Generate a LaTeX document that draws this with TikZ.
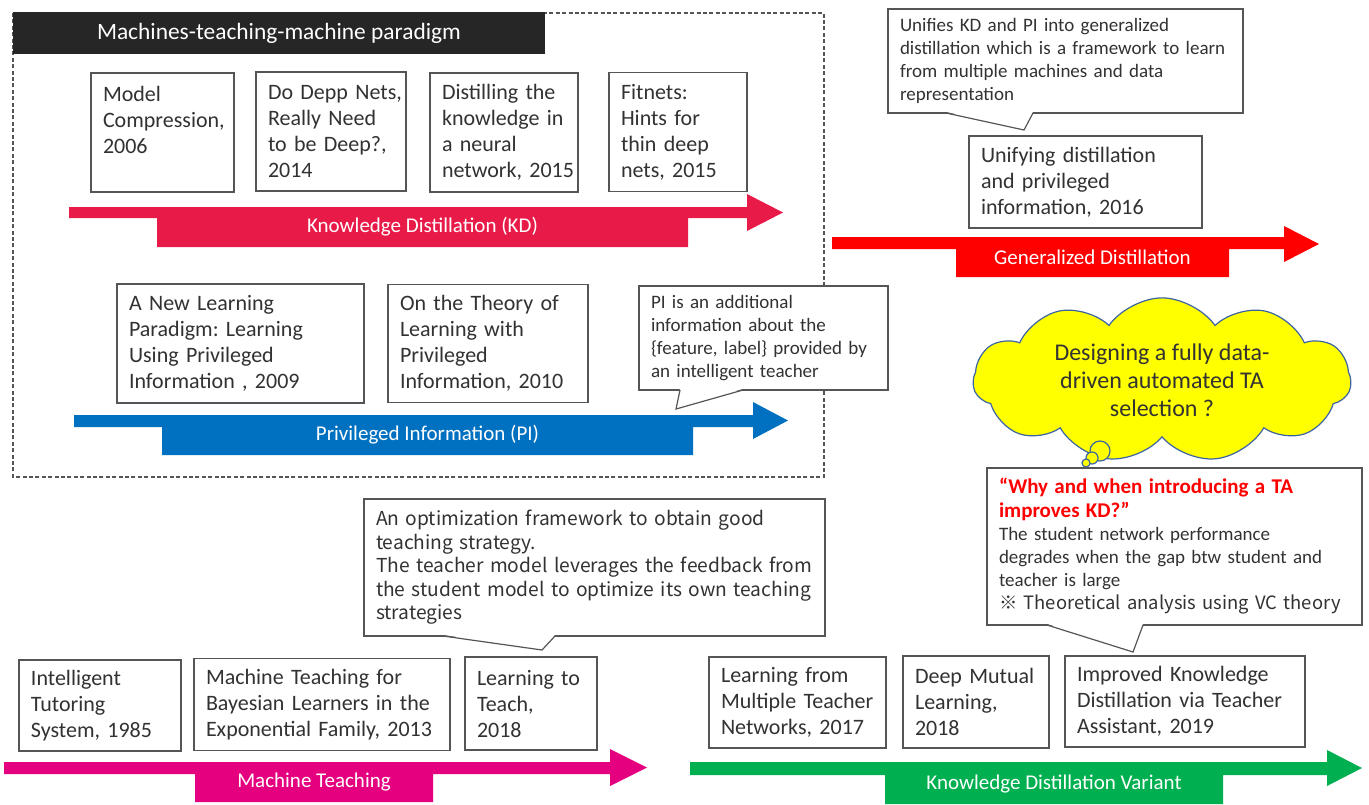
\documentclass[tikz,border=0pt]{standalone}
\usepackage{fontspec}
\setmainfont{Carlito}
\newfontfamily\krfont{Noto Sans CJK KR}
\usetikzlibrary{shapes.symbols}
\frenchspacing

\definecolor{kdred}{RGB}{232,26,72}
\definecolor{gdred}{RGB}{255,0,0}
\definecolor{piblue}{RGB}{0,112,192}
\definecolor{mtpink}{RGB}{228,0,127}
\definecolor{kvgreen}{RGB}{0,176,80}
\definecolor{bargray}{RGB}{38,38,38}
\definecolor{linegray}{RGB}{85,85,85}
\definecolor{textgray}{RGB}{50,50,50}
\definecolor{cloudblue}{RGB}{60,100,160}
\definecolor{cloudyellow}{RGB}{255,255,0}

\newcommand{\paperfont}{\fontsize{11}{13}\selectfont}
\newcommand{\notefont}{\fontsize{9.5}{11.6}\selectfont}
\newcommand{\bandfont}{\fontsize{10.5}{12}\selectfont}
\newcommand{\titlefont}{\fontsize{11.7}{13}\selectfont}
\newcommand{\cloudfont}{\fontsize{12}{14}\selectfont}

\tikzset{
  paper/.style={draw=linegray, line width=0.6pt, fill=white, outer sep=0pt,
    inner xsep=6pt, align=left, text=textgray, font=\paperfont},
  note/.style={paper, font=\notefont},
  band/.style={text=white, font=\bandfont},
  tail/.style={draw=linegray, line width=0.6pt},
  bubble/.style={circle, draw=cloudblue, line width=0.6pt, fill=cloudyellow, inner sep=0pt},
}

\begin{document}
\begin{tikzpicture}[x=0.5pt, y=-0.5pt]
    \useasboundingbox (0,0) rectangle (1369,804);

    % Paradigm frame and title bar
    \draw[linegray, line width=0.6pt, dash pattern=on 2pt off 1.2pt] (13,13) rectangle (824,477);
    \node[fill=bargray, text=white, outer sep=0pt, minimum width=266pt, minimum height=21pt,
      font=\titlefont] (title) at (279,33) {Machines-teaching-machine paradigm};

    % Timeline bands
    \fill[kdred] (69,207) -- (747,207) -- (747,194) -- (783,212.5) -- (747,231) -- (747,218)
      -- (688,218) -- (688,247) -- (157,247) -- (157,218) -- (69,218) -- cycle;
    \node[band] (kdband) at (422.5,227) {Knowledge Distillation (KD)};

    \fill[gdred] (832,237) -- (1284,237) -- (1284,226) -- (1319,244) -- (1284,262) -- (1284,249)
      -- (1229,249) -- (1229,277) -- (956,277) -- (956,249) -- (832,249) -- cycle;
    \node[band] (gdband) at (1092.5,257) {Generalized Distillation};

    \fill[piblue] (74,415) -- (753,415) -- (753,402) -- (788,420.5) -- (753,439) -- (753,427)
      -- (693,427) -- (693,455) -- (162,455) -- (162,427) -- (74,427) -- cycle;
    \node[band] (piband) at (427.5,435) {Privileged Information (PI)};

    \fill[mtpink] (4,762) -- (610,762) -- (610,749) -- (647,767.5) -- (610,786) -- (610,774)
      -- (433,774) -- (433,802) -- (195,802) -- (195,774) -- (4,774) -- cycle;
    \node[band] (mtband) at (314,782) {Machine Teaching};

    \fill[kvgreen] (690,762) -- (1327,762) -- (1327,750) -- (1362,768) -- (1327,786) -- (1327,775)
      -- (1223,775) -- (1223,804) -- (885,804) -- (885,775) -- (690,775) -- cycle;
    \node[band] (kvband) at (1054,784) {Knowledge Distillation Variant};

    % Papers
    \node[paper, minimum width=71.5pt, minimum height=59.5pt, text width=59.5pt] (kd1) at (162.5,132.5)
      {Model\\Compression,\\2006\\~};
    \node[paper, minimum width=75pt, minimum height=59.5pt, text width=63pt] (kd2) at (331,131.5)
      {Do~Depp~Nets,\\Really Need\\to be Deep?,\\2014};
    \node[paper, minimum width=74pt, minimum height=59.5pt, text width=62pt] (kd3) at (504,132.5)
      {Distilling the\\knowledge~in\\a neural\\network,~2015};
    \node[paper, minimum width=69pt, minimum height=59.5pt, text width=57pt] (kd4) at (678,132)
      {Fitnets:\\Hints for\\thin deep\\nets, 2015};

    \node[paper, minimum width=116.5pt, minimum height=46pt, text width=104.5pt] (gd1) at (1085.5,182)
      {Unifying distillation\\and privileged\\information, 2016};

    \node[paper, minimum width=123.5pt, minimum height=59.5pt, text width=111.5pt] (pi1) at (240.5,343.5)
      {A New Learning\\Paradigm: Learning\\Using Privileged\\Information , 2009};
    \node[paper, minimum width=100pt, minimum height=59pt, text width=88pt] (pi2) at (488,343.5)
      {On the Theory of\\Learning with\\Privileged\\Information, 2010};

    \node[paper, minimum width=81pt, minimum height=45.5pt, text width=69pt] (mt1) at (100,705.5)
      {Intelligent\\Tutoring\\System, 1985};
    \node[paper, minimum width=128pt, minimum height=46pt, text width=116pt] (mt2) at (322,704.5)
      {Machine Teaching for\\Bayesian Learners in the\\Exponential Family, 2013};
    \node[paper, minimum width=66pt, minimum height=46.5pt, text width=54pt] (mt3) at (531,703.5)
      {Learning to\\Teach,\\2018};

    \node[paper, minimum width=88.5pt, minimum height=45.5pt, text width=76.5pt] (kv1) at (797.5,702.5)
      {Learning from\\Multiple~Teacher\\Networks, 2017};
    \node[paper, minimum width=73pt, minimum height=46pt, text width=61pt] (kv2) at (976,702)
      {Deep Mutual\\Learning,\\2018};
    \node[paper, minimum width=120pt, minimum height=45.5pt, text width=108pt] (kv3) at (1185,701.5)
      {Improved Knowledge\\Distillation via Teacher\\Assistant, 2019};

    % Notes with their tails
    \node[note, minimum width=177.5pt, minimum height=52pt, text width=165.5pt] (gdnote) at (1065.5,61)
      {Unifies KD and PI into generalized\\distillation which is a framework to learn\\from multiple machines and data\\representation};
    \coordinate (gdtip) at (1024,130);
    \fill[white] ([xshift=29pt,yshift=0.6pt]gdnote.south west) -- (gdtip) -- ([xshift=72.5pt,yshift=0.6pt]gdnote.south west) -- cycle;
    \draw[tail] ([xshift=29pt]gdnote.south west) -- (gdtip) -- ([xshift=72.5pt]gdnote.south west);

    \node[note, minimum width=124.5pt, minimum height=52pt, text width=112.5pt] (pinote) at (763.5,338)
      {PI is an additional\\information about the\\\{feature, label\}~provided~by\\an intelligent teacher};
    \coordinate (pitip) at (676,409);
    \fill[white] ([xshift=20.5pt,yshift=0.6pt]pinote.south west) -- (pitip) -- ([xshift=52pt,yshift=0.6pt]pinote.south west) -- cycle;
    \draw[tail] ([xshift=20.5pt]pinote.south west) -- (pitip) -- ([xshift=52pt]pinote.south west);

    \node[note, minimum width=230.5pt, minimum height=68.5pt, text width=218.5pt,
      font=\krfont\fontsize{9.6}{11.75}\selectfont] (optnote) at (594.5,567.5)
      {An optimization framework to obtain good\\teaching strategy.\\The teacher model leverages the feedback from\\the student model to optimize its own teaching\\strategies};
    \coordinate (opttip) at (542,650);
    \fill[white] ([xshift=39.5pt,yshift=0.6pt]optnote.south west) -- (opttip) -- ([xshift=95.5pt,yshift=0.6pt]optnote.south west) -- cycle;
    \draw[tail] ([xshift=39.5pt]optnote.south west) -- (opttip) -- ([xshift=95.5pt]optnote.south west);

    \node[note, minimum width=187.5pt, minimum height=78.5pt, text width=175.5pt] (tanote) at (1174.5,546.5)
      {{\fontsize{10.5}{12.5}\selectfont\bfseries\color{gdred}“Why and when introducing a TA\\improves KD?”}\\
       The student network performance\\degrades when the gap btw student and\\teacher is large\\
       {\krfont\fontsize{9.2}{11.6}\selectfont ※~Theoretical~analysis~using~VC~theory}};
    \coordinate (tatip) at (1133,652);
    \fill[white] ([xshift=30pt,yshift=0.6pt]tanote.south west) -- (tatip) -- ([xshift=78pt,yshift=0.6pt]tanote.south west) -- cycle;
    \draw[tail] ([xshift=30pt]tanote.south west) -- (tatip) -- ([xshift=78pt]tanote.south west);

    % Open question
    \node[cloud, cloud puffs=11, cloud puff arc=110, cloud ignores aspect, draw=cloudblue, line width=0.6pt,
      fill=cloudyellow, minimum width=189pt, minimum height=67pt, align=center, text=textgray,
      font=\cloudfont] (idea) at (1162,380) {Designing a fully data-\\driven automated TA\\selection ?};
    \node[bubble, minimum size=10pt] (bub1) at (1100,451) {};
    \node[bubble, minimum size=6pt] (bub2) at (1092,458) {};
    \node[bubble, minimum size=4pt] (bub3) at (1086,463) {};
\end{tikzpicture}
\end{document}
